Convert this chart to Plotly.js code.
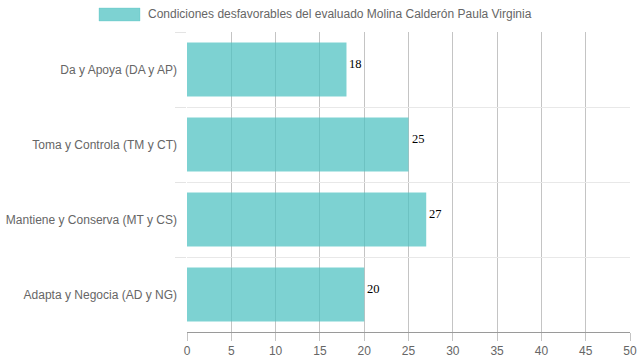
<!DOCTYPE html>
<html>
<head>
<meta charset="utf-8">
<script src="https://cdn.plot.ly/plotly-3.0.1.min.js"></script>
<style>html,body{margin:0;padding:0;background:#fff;}#chart{width:639px;height:360px;}</style>
</head>
<body>
<div id="chart"></div>
<script>
var categories = ["Da y Apoya (DA y AP)", "Toma y Controla (TM y CT)", "Mantiene y Conserva (MT y CS)", "Adapta y Negocia (AD y NG)"];
var values = [18, 25, 27, 20];
var seriesName = "Condiciones desfavorables del evaluado Molina Calderón Paula Virginia";
var xTicks = [0, 5, 10, 15, 20, 25, 30, 35, 40, 45, 50];

var trace = {
  type: "bar",
  orientation: "h",
  x: values,
  y: categories,
  name: seriesName,
  marker: {color: "rgba(75,192,192,0.72)", line: {width: 0}},
  hoverinfo: "none",
  showlegend: false
};

var annotations = values.map(function (v, i) {
  return {x: v, y: categories[i], xref: "x", yref: "y", text: String(v), showarrow: false,
    xanchor: "left", yanchor: "middle", xshift: 1, yshift: 6,
    font: {family: "Liberation Serif, Times New Roman, serif", size: 12.5, color: "#000"}};
});

var plotW = 639 - 187 - 9, plotH = 360 - 32 - 28;
function px(xp) { return (xp - 187) / plotW; }
function py(yp) { return (360 - 28 - yp) / plotH; }

annotations.push({x: px(146), y: py(14.5), xref: "paper", yref: "paper", text: seriesName, showarrow: false,
  xanchor: "left", yanchor: "middle",
  font: {family: "Liberation Sans, Arial, sans-serif", size: 12, color: "#666"}});

var layout = {
  width: 639, height: 360,
  margin: {l: 187, r: 9, t: 32, b: 28, pad: 0},
  paper_bgcolor: "#fff", plot_bgcolor: "#fff",
  bargap: 0.28,
  showlegend: false,
  font: {family: "Liberation Sans, Arial, sans-serif", size: 12, color: "#666"},
  xaxis: {
    range: [0, 50], tickvals: xTicks, ticktext: xTicks.map(String),
    showgrid: true, gridcolor: "#c4c4c4", gridwidth: 1,
    zeroline: false, showline: true, linecolor: "#9a9a9a", linewidth: 1,
    ticks: "outside", ticklen: 8, tickcolor: "#c4c4c4",
    tickfont: {size: 12, color: "#666"}, fixedrange: true
  },
  yaxis: {
    categoryorder: "array", categoryarray: categories.slice(),
    autorange: "reversed",
    tickson: "boundaries", showgrid: true, gridcolor: "#e8e8e8",
    ticks: "outside", ticklen: 11, tickcolor: "#e4e4e4",
    ticklabelstandoff: 9,
    showline: false, zeroline: false,
    tickfont: {size: 12, color: "#666"}, fixedrange: true
  },
  annotations: annotations,
  shapes: [{type: "rect", xref: "paper", yref: "paper",
    x0: px(99), x1: px(140), y0: py(21), y1: py(8),
    fillcolor: "rgba(75,192,192,0.72)", line: {color: "rgba(75,192,192,0.3)", width: 1}}]
};

Plotly.newPlot("chart", [trace], layout, {displayModeBar: false, staticPlot: true});
</script>
</body>
</html>
